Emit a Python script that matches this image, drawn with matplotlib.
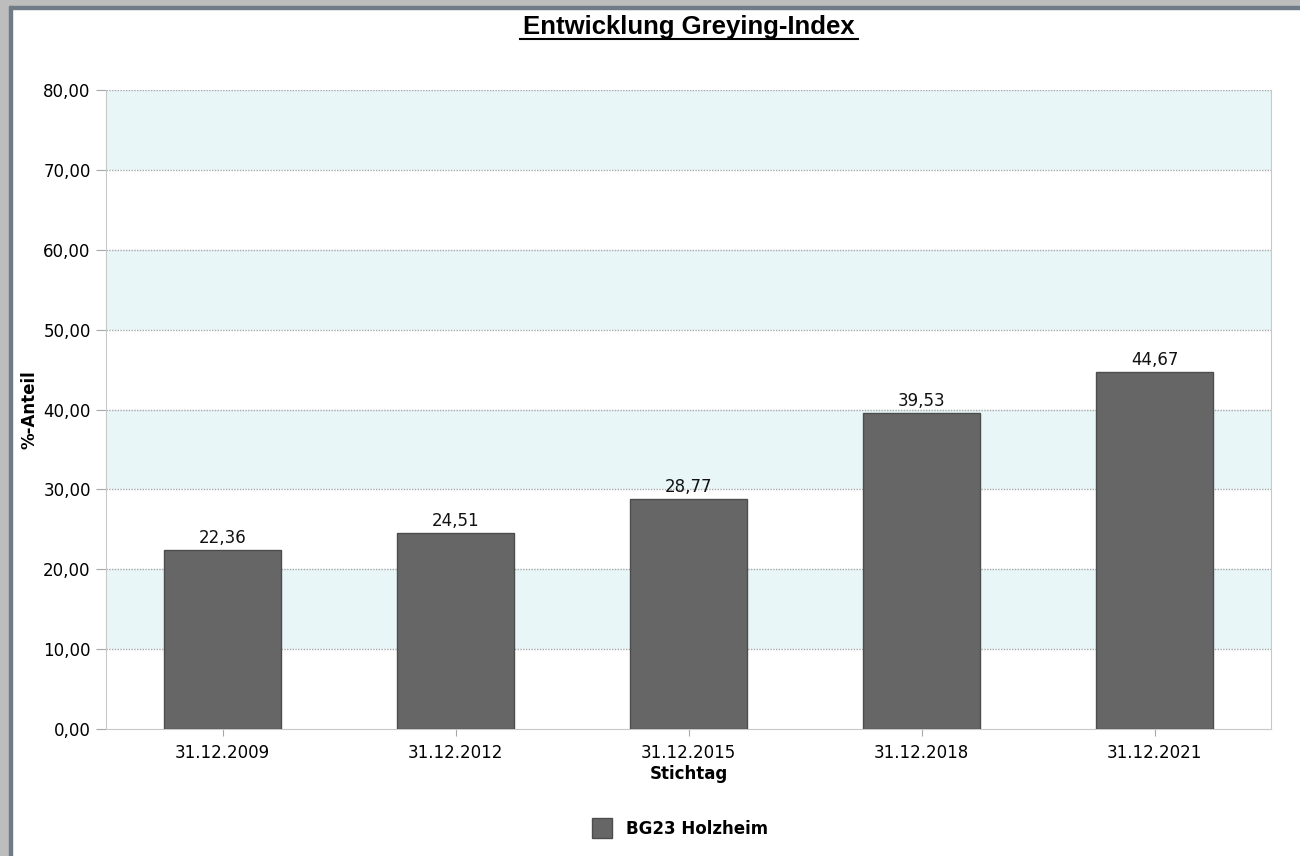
import matplotlib.pyplot as plt
from matplotlib.patches import Rectangle

dates = ['31.12.2009', '31.12.2012', '31.12.2015', '31.12.2018', '31.12.2021']
values = [22.36, 24.51, 28.77, 39.53, 44.67]
series_name = 'BG23 Holzheim'
yticks = [0, 10, 20, 30, 40, 50, 60, 70, 80]

def de(v):
    return f'{v:.2f}'.replace('.', ',')

fig = plt.figure(figsize=[13, 8.56], dpi=100)
W, H = 1300, 856

# window frame
fig.patches.append(Rectangle((0, 1 - 6 / H), 1, 6 / H, transform=fig.transFigure, color='#bdbdbd', zorder=0))
fig.patches.append(Rectangle((0, 1 - 9 / H), 1, 3 / H, transform=fig.transFigure, color='#6f7b87', zorder=0))
fig.patches.append(Rectangle((0, 0), 9 / W, 1, transform=fig.transFigure, color='#bdbdbd', zorder=0))
fig.patches.append(Rectangle((9 / W, 0), 3 / W, 1 - 6 / H, transform=fig.transFigure, color='#6f7b87', zorder=0))

ax = fig.add_axes([106 / W, 1 - 729 / H, (1271 - 106) / W, (729 - 90) / H])
x = range(len(dates))
ax.bar(x, values, width=0.5, color='#666666', edgecolor='#4d4d4d', linewidth=1, zorder=3)
for xi, v in zip(x, values):
    ax.text(xi, v + 0.4, de(v), ha='center', va='bottom', fontsize=12, color='#111111', zorder=4)

ax.set_xlim(-0.5, len(dates) - 0.5)
ax.set_ylim(0, 80)
for lo in [10, 30, 50, 70]:
    ax.axhspan(lo, lo + 10, color='#e8f6f8', zorder=0, lw=0)
for t in yticks[1:]:
    ax.axhline(t, color='#a8a8a8', lw=1, ls=(0, (1, 1)), zorder=1)

ax.set_yticks(yticks)
ax.set_yticklabels([de(t) for t in yticks], fontsize=12)
ax.set_xticks(list(x))
ax.set_xticklabels(dates, fontsize=12)
ax.tick_params(axis='y', length=7, color='#a8a8a8', pad=4)
ax.tick_params(axis='x', length=5, color='#a8a8a8', pad=6)

for s in ['left', 'bottom', 'right']:
    ax.spines[s].set_color('#c8c8c8')
ax.spines['top'].set_visible(False)

ax.set_xlabel('Stichtag', fontsize=12, fontweight='bold', labelpad=2)
ax.set_ylabel('%-Anteil', fontsize=12, fontweight='bold')
ax.yaxis.set_label_coords(-0.058, 0.5)

fig.text(689 / W, 1 - 27 / H, 'Entwicklung Greying-Index', ha='center', va='center',
         fontsize=18.5, fontweight='bold', family='Liberation Sans')
fig.lines.append(plt.Line2D([520 / W, 858 / W], [1 - 39 / H, 1 - 39 / H], transform=fig.transFigure, color='black', lw=1.5))

fig.legend([Rectangle((0, 0), 1, 1, fc='#666666', ec='#4d4d4d')], [series_name],
           loc='center', bbox_to_anchor=(680 / W, 1 - 828 / H), frameon=False,
           prop={'weight': 'bold', 'size': 12}, handlelength=1.2, handleheight=1.4)

fig.savefig('out.png', dpi=100)
